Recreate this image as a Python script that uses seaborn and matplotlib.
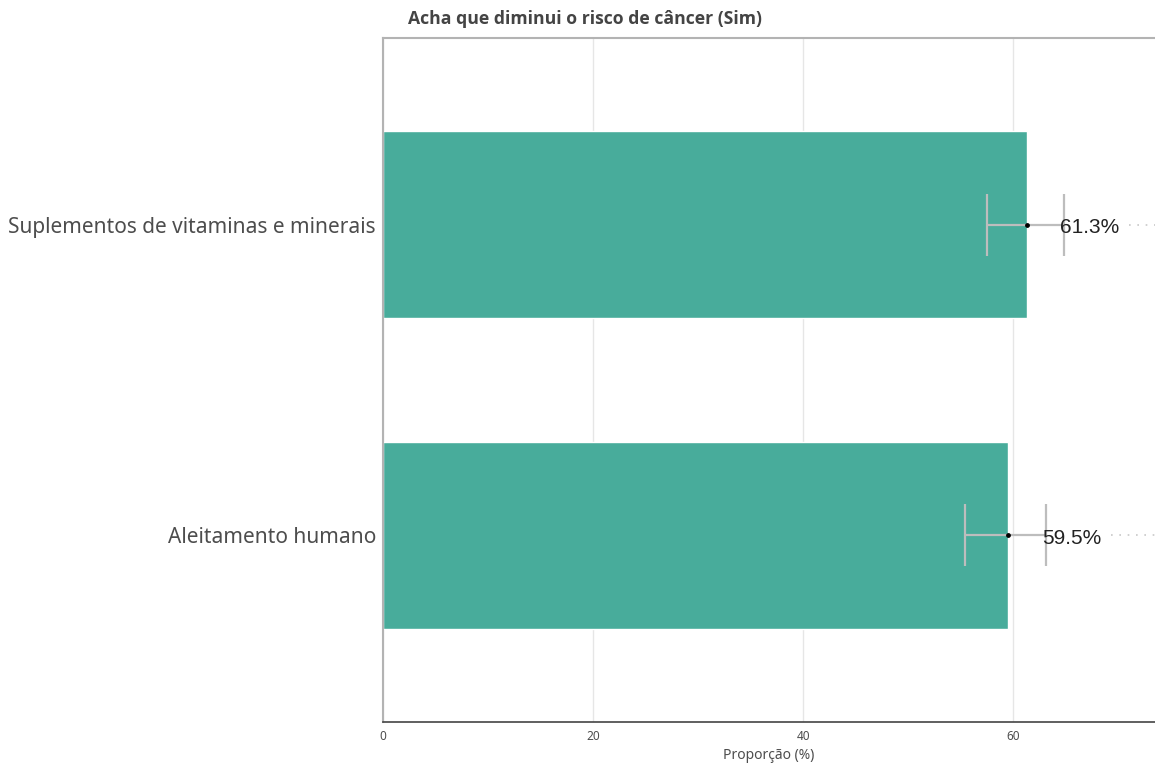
import matplotlib
matplotlib.use("Agg")
import numpy as np
import pandas as pd
import seaborn as sns
import matplotlib.pyplot as plt

# data
categorias = ["Suplementos de vitaminas e minerais", "Aleitamento humano"]
proporcao = [61.3, 59.5]
ic_inf = [57.5, 55.4]
ic_sup = [64.8, 63.1]
x_ticks = [0, 20, 40, 60]

df = pd.DataFrame({"categoria": categorias, "prop": proporcao})

sns.set_style("white")
plt.rcParams["font.family"] = ["Noto Sans", "DejaVu Sans"]

fig = plt.figure(figsize=(11.55, 7.65), dpi=100)
ax = fig.add_axes([0.3316, 0.0562, 0.6684, 0.8941])

ax.grid(axis="x", color="#e6e6e6", linewidth=1)
ax.set_axisbelow(True)

sns.barplot(data=df, x="prop", y="categoria", orient="h", color="#48ac9b",
            saturation=1, width=0.6, errorbar=None, ax=ax)

ypos = np.arange(len(categorias))
prop = np.array(proporcao)
lo = np.array(ic_inf)
hi = np.array(ic_sup)
ax.errorbar(prop, ypos, xerr=[prop - lo, hi - prop], fmt="none",
            ecolor="#bdbdbd", elinewidth=1.6, capsize=22.5, capthick=1.6, zorder=3)
ax.scatter(prop, ypos, s=6, color="black", zorder=4)

for y, v, h in zip(ypos, prop, hi):
    ax.text(h - 0.3, y + 0.01, f"{v:.1f}%", ha="left", va="center",
            fontsize=15, color="#222222", family=["Liberation Sans", "DejaVu Sans"], zorder=5)
    ax.plot([h + 6.2, 76], [y, y], linestyle=(0, (1, 4)), color="#c8c8c8",
            linewidth=1.2, clip_on=False, zorder=2)

ax.set_xlim(0, 73.5)
ax.set_ylim(1.6, -0.6)
ax.set_xticks(x_ticks)
ax.tick_params(axis="x", labelsize=8.5, colors="#333333", length=3, width=1,
               labelcolor="#4d4d4d", pad=3)
ax.tick_params(axis="y", labelsize=15, labelcolor="#4d4d4d", length=3,
               color="#4d4d4d", pad=2)
ax.set_xlabel("Proporção (%)", fontsize=10, color="#4d4d4d", labelpad=3)
ax.set_ylabel("")

for side in ["left", "top"]:
    ax.spines[side].set_color("#b3b3b3")
    ax.spines[side].set_linewidth(1.5)
ax.spines["bottom"].set_color("#444444")
ax.spines["bottom"].set_linewidth(1.2)
ax.spines["right"].set_visible(False)

fig.text(0.353, 0.975, "Acha que diminui o risco de câncer (Sim)", fontsize=12.7,
         fontweight="bold", color="#444444", ha="left", va="center",
         family=["Open Sans", "DejaVu Sans"])

fig.savefig("out.png", dpi=100)
